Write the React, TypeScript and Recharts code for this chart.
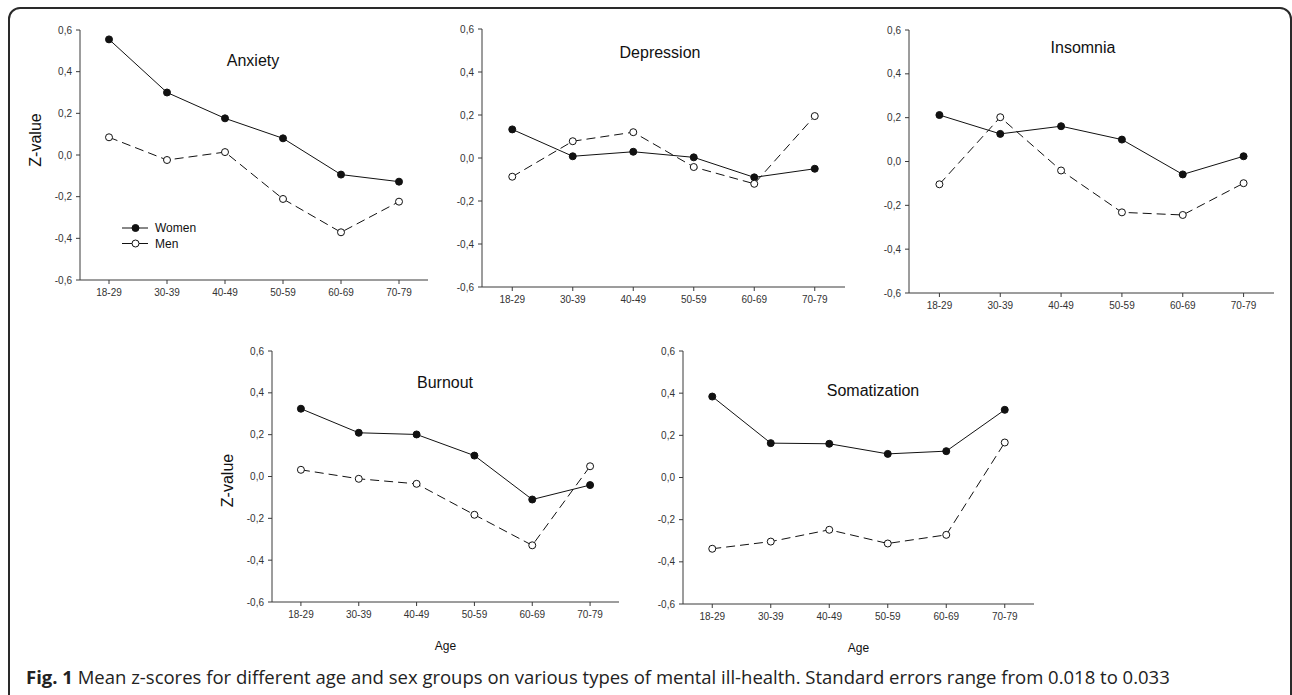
import React from 'react';
import { LineChart, Line, XAxis, YAxis, Legend } from 'recharts';

const ageGroups = ['18-29', '30-39', '40-49', '50-59', '60-69', '70-79'];
const yTicks = [-0.6, -0.4, -0.2, 0, 0.2, 0.4, 0.6];
const legendOrder = ['Women', 'Men'];

const anxietyWomen = [0.555, 0.3, 0.176, 0.08, -0.094, -0.128];
const anxietyMen = [0.085, -0.024, 0.014, -0.211, -0.371, -0.224];
const depressionWomen = [0.133, 0.008, 0.029, 0.003, -0.09, -0.05];
const depressionMen = [-0.087, 0.078, 0.12, -0.042, -0.12, 0.195];
const insomniaWomen = [0.212, 0.126, 0.161, 0.1, -0.059, 0.024];
const insomniaMen = [-0.104, 0.202, -0.041, -0.232, -0.244, -0.099];
const burnoutWomen = [0.324, 0.209, 0.201, 0.1, -0.11, -0.041];
const burnoutMen = [0.032, -0.011, -0.035, -0.183, -0.329, 0.049];
const somatizationWomen = [0.384, 0.163, 0.16, 0.112, 0.125, 0.321];
const somatizationMen = [-0.338, -0.304, -0.248, -0.313, -0.272, 0.166];

const FONT = '"Liberation Sans", Arial, Helvetica, sans-serif';
const AXIS = '#3a3a3a';
const INK = '#111';

const fmt = (v: number) => v.toFixed(1).replace('.', ',');

const renderLegend = (props: any) => {
  const items = [...(props.payload || [])].sort(
    (a: any, b: any) => legendOrder.indexOf(a.value) - legendOrder.indexOf(b.value)
  );
  return (
    <svg width={90} height={34} style={{ display: 'block' }}>
      {items.map((it: any, i: number) => {
        const y = 8 + i * 15.5;
        const filled = it.value === 'Women';
        return (
          <g key={it.value}>
            <line x1={0} x2={26} y1={y} y2={y} stroke={INK} strokeWidth={1} />
            <circle cx={13.5} cy={y} r={3.5} fill={filled ? INK : '#fff'} stroke={INK} strokeWidth={1} />
            <text x={33} y={y} dominantBaseline="central" fontSize={12} fontFamily={FONT} fill="#111">
              {it.value}
            </text>
          </g>
        );
      })}
    </svg>
  );
};

type PanelProps = {
  title: string;
  women: number[];
  men: number[];
  box: [number, number, number, number];
  titlePos: [number, number];
  yLabel?: boolean;
  yLabelShift?: number;
  xLabel?: boolean;
  legend?: [number, number];
};

function Panel({ title, women, men, box, titlePos, yLabel, yLabelShift = 0, xLabel, legend }: PanelProps) {
  const [pl, pt, pr, pb] = box;
  const yAxisW = 60;
  const mTop = 15;
  const mRight = 10;
  const xAxisH = xLabel ? 52 : 30;
  const left = pl - yAxisW;
  const top = pt - mTop;
  const width = pr + mRight - left;
  const height = pb + xAxisH - top;
  const pad = (pr - pl) / 12;
  const data = ageGroups.map((age, i) => ({ age, Women: women[i], Men: men[i] }));

  return (
    <>
      <div style={{ position: 'absolute', left, top }}>
        <LineChart width={width} height={height} data={data} margin={{ top: mTop, right: mRight, left: 0, bottom: 0 }}>
          <XAxis
            dataKey="age"
            height={xAxisH}
            padding={{ left: pad, right: pad }}
            stroke={AXIS}
            tickSize={4}
            tickMargin={5}
            tick={{ fontSize: 10, fill: '#333', fontFamily: FONT }}
            interval={0}
            label={
              xLabel
                ? { value: 'Age', position: 'insideBottom', offset: 4, style: { fontSize: 12, fill: '#111', fontFamily: FONT } }
                : undefined
            }
          />
          <YAxis
            type="number"
            domain={[-0.6, 0.6]}
            ticks={yTicks}
            width={yAxisW}
            stroke={AXIS}
            tickSize={4}
            tickMargin={4}
            tickFormatter={fmt}
            tick={{ fontSize: 10, fill: '#333', fontFamily: FONT }}
            allowDataOverflow
            label={
              yLabel
                ? {
                    content: (p: any) => {
                      const vb = p.viewBox || {};
                      const x = vb.x + 15;
                      const y = vb.y + vb.height / 2 + yLabelShift;
                      return (
                        <text
                          x={x}
                          y={y}
                          transform={`rotate(-90, ${x}, ${y})`}
                          textAnchor="middle"
                          dominantBaseline="central"
                          fontSize={16}
                          fontFamily={FONT}
                          fill="#111"
                        >
                          Z-value
                        </text>
                      );
                    },
                  }
                : undefined
            }
          />
          {legend ? (
            <Legend
              layout="horizontal"
              verticalAlign="middle"
              align="center"
              content={renderLegend}
              wrapperStyle={{ position: 'absolute', left: legend[0] - left, top: legend[1] - top, width: 'auto', height: 'auto' }}
            />
          ) : null}
          <Line
            type="linear"
            dataKey="Women"
            name="Women"
            stroke={INK}
            strokeWidth={1}
            dot={{ r: 3.5, fill: INK, stroke: INK, strokeWidth: 1 }}
            activeDot={false}
            isAnimationActive={false}
          />
          <Line
            type="linear"
            dataKey="Men"
            name="Men"
            stroke={INK}
            strokeWidth={1}
            strokeDasharray="9 5"
            dot={{ r: 3.5, fill: '#fff', stroke: INK, strokeWidth: 1, strokeDasharray: '0' }}
            activeDot={false}
            isAnimationActive={false}
          />
        </LineChart>
      </div>
      <div
        style={{
          position: 'absolute',
          left: titlePos[0],
          top: titlePos[1],
          transform: 'translate(-50%, -50%)',
          fontFamily: FONT,
          fontSize: 16,
          color: '#111',
          whiteSpace: 'nowrap',
        }}
      >
        {title}
      </div>
    </>
  );
}

export default function App() {
  return (
    <div style={{ position: 'absolute', left: 0, top: 0, width: 1292, height: 695, overflow: 'hidden', background: '#fff' }}>
      <div
        style={{
          position: 'absolute',
          left: 8,
          top: 7,
          width: 1284,
          height: 720,
          border: '2px solid #2a2a2a',
          borderRadius: 12,
          boxSizing: 'border-box',
        }}
      />
      <Panel title="Anxiety" women={anxietyWomen} men={anxietyMen} box={[80, 30, 428, 280]} titlePos={[253, 61]} yLabel yLabelShift={-15} legend={[122, 220]} />
      <Panel title="Depression" women={depressionWomen} men={depressionMen} box={[482, 29, 845, 287]} titlePos={[660, 53]} />
      <Panel title="Insomnia" women={insomniaWomen} men={insomniaMen} box={[909, 30, 1274, 293]} titlePos={[1083, 48]} />
      <Panel title="Burnout" women={burnoutWomen} men={burnoutMen} box={[272, 351, 619, 602]} titlePos={[445, 383]} yLabel yLabelShift={4} xLabel />
      <Panel title="Somatization" women={somatizationWomen} men={somatizationMen} box={[683, 351, 1034, 604]} titlePos={[873, 391]} xLabel />
      <svg style={{ position: 'absolute', left: 0, top: 660 }} width={1292} height={35}>
        <text x={26} y={24} fontFamily='"Open Sans", "Noto Sans", sans-serif' fontSize={18.5} fill="#222">
          <tspan fontWeight="bold">Fig. 1</tspan>
          <tspan> Mean z-scores for different age and sex groups on various types of mental ill-health. Standard errors range from 0.018 to 0.033</tspan>
        </text>
      </svg>
    </div>
  );
}
